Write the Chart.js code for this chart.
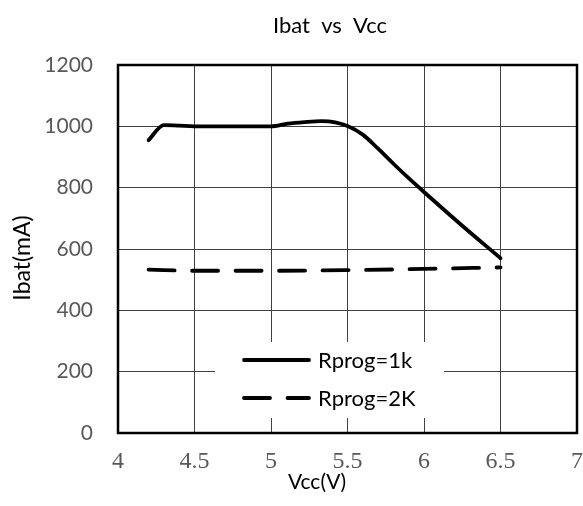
<!DOCTYPE html>
<html><head><meta charset="utf-8">
<script src="https://cdn.jsdelivr.net/npm/chart.js@4/dist/chart.umd.min.js"></script>
<style>html,body{margin:0;padding:0;background:#fff;}</style>
</head><body>
<canvas id="c" width="583" height="506"></canvas>
<script>
const chartTitle = 'Ibat  vs  Vcc';
const xAxisTitle = 'Vcc(V)';
const yAxisTitle = 'Ibat(mA)';
const xTickLabels = ['4','4.5','5','5.5','6','6.5','7'];
const yTickLabels = ['0','200','400','600','800','1000','1200'];
const seriesNames = ['Rprog=1k','Rprog=2K'];
const rprog1kVcc  = [4.2, 4.3, 4.4, 4.5, 4.75, 5.0, 5.11, 5.22, 5.33, 5.42, 5.5, 5.6, 5.7, 5.8, 5.9, 6.0, 6.25, 6.5];
const rprog1kIbat = [955, 1004, 1002, 1000, 1000, 1000, 1009, 1014, 1017, 1013, 1001, 973, 927, 878, 831, 786, 676, 570];
const rprog2kVcc  = [4.2, 4.5, 5.0, 5.5, 6.0, 6.5];
const rprog2kIbat = [533, 529, 529, 531, 535, 540];

const toPts = (xs, ys) => xs.map((x, i) => ({x: x, y: ys[i]}));

const decor = {
  id: 'decor',
  beforeDatasetsDraw(chart) {
    const {ctx, chartArea: a} = chart;
    ctx.save();
    ctx.strokeStyle = '#000';
    ctx.lineWidth = 2.5;
    ctx.strokeRect(a.left, a.top, a.right - a.left, a.bottom - a.top);
    ctx.restore();
  },
  afterDatasetsDraw(chart) {
    const {ctx} = chart;
    ctx.save();
    ctx.fillStyle = '#fff';
    ctx.fillRect(215, 342, 229, 76);
    const rows = [360, 398];
    chart.data.datasets.forEach((ds, i) => {
      const y = rows[i];
      ctx.strokeStyle = ds.borderColor;
      ctx.lineWidth = ds.borderWidth;
      ctx.lineCap = 'round';
      ctx.setLineDash(ds.borderDash || []);
      ctx.beginPath();
      ctx.moveTo(244, y);
      ctx.lineTo(309, y);
      ctx.stroke();
      ctx.setLineDash([]);
      ctx.fillStyle = '#000';
      ctx.font = '22px Lato';
      ctx.textAlign = 'left';
      ctx.textBaseline = 'middle';
      ctx.fillText(ds.label, 318, y + 1);
    });
    ctx.restore();
  },
  afterDraw(chart) {
    const {ctx} = chart;
    ctx.save();
    ctx.fillStyle = '#000';
    ctx.textAlign = 'center';
    ctx.textBaseline = 'alphabetic';
    ctx.font = '22px Lato';
    ctx.fillText(chartTitle, 330, 33);
    ctx.font = '21px Lato';
    ctx.textBaseline = 'middle';
    ctx.fillText(xAxisTitle, 317, 482);
    ctx.font = '23px Lato';
    ctx.translate(22.5, 258);
    ctx.rotate(-Math.PI / 2);
    ctx.fillText(yAxisTitle, 0, 0);
    ctx.restore();
  }
};

new Chart(document.getElementById('c'), {
  type: 'line',
  data: {
    datasets: [
      {label: seriesNames[0], data: toPts(rprog1kVcc, rprog1kIbat), borderColor: '#000', borderWidth: 3.8,
       cubicInterpolationMode: 'monotone', borderCapStyle: 'round', borderJoinStyle: 'round', fill: false, pointRadius: 0},
      {label: seriesNames[1], data: toPts(rprog2kVcc, rprog2kIbat), borderColor: '#000', borderWidth: 3.8, borderDash: [26, 17.5],
       cubicInterpolationMode: 'monotone', borderCapStyle: 'round', borderJoinStyle: 'round', fill: false, pointRadius: 0}
    ]
  },
  options: {
    responsive: false,
    animation: false,
    layout: {padding: {top: 65, right: 6, left: 0, bottom: 0}},
    plugins: {legend: {display: false}, title: {display: false}, tooltip: {enabled: false}},
    scales: {
      x: {
        type: 'linear', min: 4, max: 7,
        afterBuildTicks: s => { s.ticks = xTickLabels.map(t => ({value: parseFloat(t)})); },
        afterFit: s => { s.height = 73; s.paddingLeft = 0; s.paddingRight = 0; },
        grid: {color: '#404040', lineWidth: 1, drawTicks: false},
        border: {display: false},
        ticks: {callback: (v, i) => xTickLabels[i], color: '#595959', padding: 14, maxRotation: 0, autoSkip: false,
                font: {family: '"Liberation Serif"', size: 24}}
      },
      y: {
        type: 'linear', min: 0, max: 1200,
        afterBuildTicks: s => { s.ticks = yTickLabels.map(t => ({value: parseFloat(t)})); },
        afterFit: s => { s.width = 118; s.paddingTop = 0; s.paddingBottom = 0; },
        grid: {color: '#404040', lineWidth: 1, drawTicks: false},
        border: {display: false},
        ticks: {callback: (v, i) => yTickLabels[i], color: '#595959', padding: 25, autoSkip: false,
                font: {family: 'Lato', size: 21}}
      }
    }
  },
  plugins: [decor]
});
</script>
</body></html>
